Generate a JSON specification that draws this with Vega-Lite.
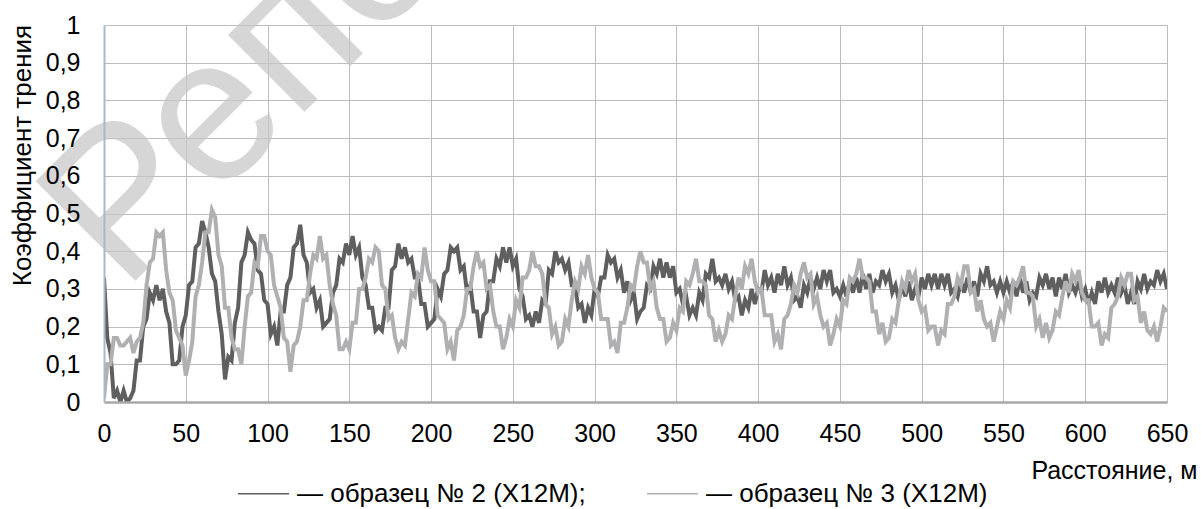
{
"$schema":"https://vega.github.io/schema/vega-lite/v6.json",
"width":1063,"height":377,
"autosize":{"type":"none"},
"padding":{"left":104,"top":25,"right":34,"bottom":107},
"background":"white",
"config":{"view":{"stroke":null},"font":"Liberation Sans"},
"resolve":{"axis":{"x":"independent","y":"independent"}},
"datasets":{
"w":[{"wx":12,"wy":0.29,"wt":"Репозиторий БНТУ"}],
"s":[
{"x":0,"d":0.33,"l":0.01},{"x":2,"d":0.17,"l":0.10},{"x":4,"d":0.13,"l":0.10},{"x":6,"d":0.01,"l":0.17},{"x":8,"d":0.03,"l":0.17},{"x":10,"d":0,"l":0.15},{"x":12,"d":0.03,"l":0.15},{"x":14,"d":0,"l":0.16},{"x":16,"d":0.01,"l":0.17},{"x":18,"d":0.03,"l":0.13},
{"x":20,"d":0.11,"l":0.16},{"x":22,"d":0.11,"l":0.17},{"x":24,"d":0.20,"l":0.21},{"x":26,"d":0.22,"l":0.31},{"x":28,"d":0.29,"l":0.37},{"x":30,"d":0.27,"l":0.38},{"x":32,"d":0.31,"l":0.45},{"x":34,"d":0.27,"l":0.44},{"x":36,"d":0.30,"l":0.45},{"x":38,"d":0.24,"l":0.35},
{"x":40,"d":0.21,"l":0.29},{"x":42,"d":0.10,"l":0.27},{"x":44,"d":0.10,"l":0.19},{"x":46,"d":0.11,"l":0.17},{"x":48,"d":0.20,"l":0.15},{"x":50,"d":0.23,"l":0.07},{"x":52,"d":0.31,"l":0.11},{"x":54,"d":0.32,"l":0.16},{"x":56,"d":0.41,"l":0.28},{"x":58,"d":0.42,"l":0.31},
{"x":60,"d":0.48,"l":0.37},{"x":62,"d":0.45,"l":0.45},{"x":64,"d":0.41,"l":0.45},{"x":66,"d":0.34,"l":0.51},{"x":68,"d":0.32,"l":0.49},{"x":70,"d":0.24,"l":0.39},{"x":72,"d":0.18,"l":0.36},{"x":74,"d":0.06,"l":0.25},{"x":76,"d":0.12,"l":0.25},{"x":78,"d":0.11,"l":0.17},
{"x":80,"d":0.21,"l":0.14},{"x":82,"d":0.25,"l":0.14},{"x":84,"d":0.37,"l":0.10},{"x":86,"d":0.39,"l":0.20},{"x":88,"d":0.45,"l":0.28},{"x":90,"d":0.43,"l":0.29},{"x":92,"d":0.42,"l":0.37},{"x":94,"d":0.35,"l":0.36},{"x":96,"d":0.34,"l":0.44},{"x":98,"d":0.27,"l":0.44},
{"x":100,"d":0.26,"l":0.40},{"x":102,"d":0.18,"l":0.39},{"x":104,"d":0.20,"l":0.31},{"x":106,"d":0.15,"l":0.28},{"x":108,"d":0.24,"l":0.25},{"x":110,"d":0.24,"l":0.17},{"x":112,"d":0.31,"l":0.16},{"x":114,"d":0.33,"l":0.08},{"x":116,"d":0.41,"l":0.15},{"x":118,"d":0.42,"l":0.16},
{"x":120,"d":0.47,"l":0.20},{"x":122,"d":0.39,"l":0.27},{"x":124,"d":0.37,"l":0.27},{"x":126,"d":0.29,"l":0.34},{"x":128,"d":0.30,"l":0.39},{"x":130,"d":0.25,"l":0.38},{"x":132,"d":0.27,"l":0.44},{"x":134,"d":0.20,"l":0.38},{"x":136,"d":0.21,"l":0.39},{"x":138,"d":0.22,"l":0.31},
{"x":140,"d":0.29,"l":0.26},{"x":142,"d":0.31,"l":0.23},{"x":144,"d":0.38,"l":0.14},{"x":146,"d":0.37,"l":0.14},{"x":148,"d":0.42,"l":0.16},{"x":150,"d":0.39,"l":0.14},{"x":152,"d":0.44,"l":0.21},{"x":154,"d":0.39,"l":0.21},{"x":156,"d":0.41,"l":0.30},{"x":158,"d":0.33,"l":0.30},
{"x":160,"d":0.31,"l":0.33},{"x":162,"d":0.25,"l":0.38},{"x":164,"d":0.25,"l":0.37},{"x":166,"d":0.19,"l":0.41},{"x":168,"d":0.20,"l":0.40},{"x":170,"d":0.19,"l":0.31},{"x":172,"d":0.25,"l":0.30},{"x":174,"d":0.25,"l":0.22},{"x":176,"d":0.35,"l":0.23},{"x":178,"d":0.36,"l":0.17},
{"x":180,"d":0.42,"l":0.14},{"x":182,"d":0.38,"l":0.16},{"x":184,"d":0.41,"l":0.15},{"x":186,"d":0.37,"l":0.22},{"x":188,"d":0.38,"l":0.29},{"x":190,"d":0.33,"l":0.28},{"x":192,"d":0.33,"l":0.34},{"x":194,"d":0.26,"l":0.33},{"x":196,"d":0.26,"l":0.41},{"x":198,"d":0.20,"l":0.35},
{"x":200,"d":0.21,"l":0.32},{"x":202,"d":0.22,"l":0.32},{"x":204,"d":0.30,"l":0.23},{"x":206,"d":0.28,"l":0.22},{"x":208,"d":0.34,"l":0.21},{"x":210,"d":0.35,"l":0.14},{"x":212,"d":0.41,"l":0.16},{"x":214,"d":0.40,"l":0.11},{"x":216,"d":0.41,"l":0.19},{"x":218,"d":0.35,"l":0.20},
{"x":220,"d":0.36,"l":0.23},{"x":222,"d":0.29,"l":0.30},{"x":224,"d":0.31,"l":0.30},{"x":226,"d":0.24,"l":0.36},{"x":228,"d":0.24,"l":0.40},{"x":230,"d":0.17,"l":0.36},{"x":232,"d":0.23,"l":0.37},{"x":234,"d":0.24,"l":0.30},{"x":236,"d":0.32,"l":0.31},{"x":238,"d":0.32,"l":0.24},
{"x":240,"d":0.38,"l":0.20},{"x":242,"d":0.36,"l":0.20},{"x":244,"d":0.41,"l":0.14},{"x":246,"d":0.37,"l":0.17},{"x":248,"d":0.41,"l":0.22},{"x":250,"d":0.36,"l":0.20},{"x":252,"d":0.38,"l":0.27},{"x":254,"d":0.30,"l":0.25},{"x":256,"d":0.28,"l":0.33},{"x":258,"d":0.22,"l":0.33},
{"x":260,"d":0.23,"l":0.35},{"x":262,"d":0.20,"l":0.40},{"x":264,"d":0.24,"l":0.36},{"x":266,"d":0.21,"l":0.36},{"x":268,"d":0.27,"l":0.34},{"x":270,"d":0.26,"l":0.26},{"x":272,"d":0.35,"l":0.25},{"x":274,"d":0.34,"l":0.18},{"x":276,"d":0.40,"l":0.20},{"x":278,"d":0.37,"l":0.15},
{"x":280,"d":0.38,"l":0.16},{"x":282,"d":0.35,"l":0.22},{"x":284,"d":0.37,"l":0.20},{"x":286,"d":0.31,"l":0.27},{"x":288,"d":0.31,"l":0.32},{"x":290,"d":0.25,"l":0.30},{"x":292,"d":0.26,"l":0.36},{"x":294,"d":0.21,"l":0.34},{"x":296,"d":0.25,"l":0.39},{"x":298,"d":0.23,"l":0.33},
{"x":300,"d":0.30,"l":0.30},{"x":302,"d":0.28,"l":0.29},{"x":304,"d":0.33,"l":0.22},{"x":306,"d":0.33,"l":0.22},{"x":308,"d":0.39,"l":0.22},{"x":310,"d":0.37,"l":0.15},{"x":312,"d":0.38,"l":0.16},{"x":314,"d":0.33,"l":0.13},{"x":316,"d":0.35,"l":0.21},{"x":318,"d":0.29,"l":0.21},
{"x":320,"d":0.32,"l":0.25},{"x":322,"d":0.27,"l":0.31},{"x":324,"d":0.29,"l":0.30},{"x":326,"d":0.22,"l":0.36},{"x":328,"d":0.24,"l":0.40},{"x":330,"d":0.25,"l":0.37},{"x":332,"d":0.31,"l":0.37},{"x":334,"d":0.30,"l":0.30},{"x":336,"d":0.36,"l":0.32},{"x":338,"d":0.34,"l":0.25},
{"x":340,"d":0.38,"l":0.22},{"x":342,"d":0.33,"l":0.22},{"x":344,"d":0.37,"l":0.16},{"x":346,"d":0.33,"l":0.17},{"x":348,"d":0.36,"l":0.21},{"x":350,"d":0.29,"l":0.19},{"x":352,"d":0.30,"l":0.25},{"x":354,"d":0.26,"l":0.24},{"x":356,"d":0.28,"l":0.32},{"x":358,"d":0.23,"l":0.31},
{"x":360,"d":0.25,"l":0.34},{"x":362,"d":0.23,"l":0.38},{"x":364,"d":0.29,"l":0.32},{"x":366,"d":0.27,"l":0.32},{"x":368,"d":0.34,"l":0.31},{"x":370,"d":0.33,"l":0.23},{"x":372,"d":0.38,"l":0.22},{"x":374,"d":0.32,"l":0.16},{"x":376,"d":0.33,"l":0.19},{"x":378,"d":0.31,"l":0.16},
{"x":380,"d":0.34,"l":0.18},{"x":382,"d":0.30,"l":0.23},{"x":384,"d":0.32,"l":0.22},{"x":386,"d":0.27,"l":0.28},{"x":388,"d":0.28,"l":0.33},{"x":390,"d":0.23,"l":0.30},{"x":392,"d":0.27,"l":0.36},{"x":394,"d":0.25,"l":0.34},{"x":396,"d":0.30,"l":0.38},{"x":398,"d":0.26,"l":0.32},
{"x":400,"d":0.30,"l":0.29},{"x":402,"d":0.29,"l":0.30},{"x":404,"d":0.35,"l":0.23},{"x":406,"d":0.31,"l":0.23},{"x":408,"d":0.33,"l":0.23},{"x":410,"d":0.29,"l":0.16},{"x":412,"d":0.34,"l":0.18},{"x":414,"d":0.31,"l":0.14},{"x":416,"d":0.36,"l":0.22},{"x":418,"d":0.31,"l":0.23},
{"x":420,"d":0.33,"l":0.26},{"x":422,"d":0.27,"l":0.31},{"x":424,"d":0.28,"l":0.29},{"x":426,"d":0.25,"l":0.34},{"x":428,"d":0.31,"l":0.37},{"x":430,"d":0.29,"l":0.33},{"x":432,"d":0.33,"l":0.34},{"x":434,"d":0.30,"l":0.26},{"x":436,"d":0.33,"l":0.28},{"x":438,"d":0.30,"l":0.23},
{"x":440,"d":0.35,"l":0.20},{"x":442,"d":0.32,"l":0.21},{"x":444,"d":0.35,"l":0.15},{"x":446,"d":0.29,"l":0.18},{"x":448,"d":0.30,"l":0.22},{"x":450,"d":0.28,"l":0.20},{"x":452,"d":0.31,"l":0.27},{"x":454,"d":0.28,"l":0.26},{"x":456,"d":0.32,"l":0.33},{"x":458,"d":0.29,"l":0.32},
{"x":460,"d":0.33,"l":0.34},{"x":462,"d":0.29,"l":0.38},{"x":464,"d":0.34,"l":0.33},{"x":466,"d":0.30,"l":0.33},{"x":468,"d":0.34,"l":0.32},{"x":470,"d":0.29,"l":0.24},{"x":472,"d":0.32,"l":0.24},{"x":474,"d":0.31,"l":0.18},{"x":476,"d":0.35,"l":0.21},{"x":478,"d":0.32,"l":0.16},
{"x":480,"d":0.34,"l":0.17},{"x":482,"d":0.29,"l":0.22},{"x":484,"d":0.31,"l":0.21},{"x":486,"d":0.27,"l":0.27},{"x":488,"d":0.31,"l":0.32},{"x":490,"d":0.28,"l":0.30},{"x":492,"d":0.32,"l":0.35},{"x":494,"d":0.27,"l":0.32},{"x":496,"d":0.30,"l":0.34},{"x":498,"d":0.28,"l":0.27},
{"x":500,"d":0.33,"l":0.24},{"x":502,"d":0.30,"l":0.25},{"x":504,"d":0.34,"l":0.19},{"x":506,"d":0.31,"l":0.20},{"x":508,"d":0.34,"l":0.20},{"x":510,"d":0.30,"l":0.15},{"x":512,"d":0.34,"l":0.19},{"x":514,"d":0.31,"l":0.18},{"x":516,"d":0.34,"l":0.26},{"x":518,"d":0.29,"l":0.26},
{"x":520,"d":0.30,"l":0.28},{"x":522,"d":0.28,"l":0.33},{"x":524,"d":0.32,"l":0.31},{"x":526,"d":0.29,"l":0.36},{"x":528,"d":0.33,"l":0.36},{"x":530,"d":0.29,"l":0.29},{"x":532,"d":0.32,"l":0.30},{"x":534,"d":0.28,"l":0.24},{"x":536,"d":0.34,"l":0.27},{"x":538,"d":0.32,"l":0.22},
{"x":540,"d":0.36,"l":0.20},{"x":542,"d":0.31,"l":0.21},{"x":544,"d":0.32,"l":0.16},{"x":546,"d":0.29,"l":0.20},{"x":548,"d":0.32,"l":0.24},{"x":550,"d":0.29,"l":0.22},{"x":552,"d":0.32,"l":0.27},{"x":554,"d":0.29,"l":0.25},{"x":556,"d":0.32,"l":0.32},{"x":558,"d":0.28,"l":0.31},
{"x":560,"d":0.33,"l":0.33},{"x":562,"d":0.29,"l":0.36},{"x":564,"d":0.32,"l":0.29},{"x":566,"d":0.27,"l":0.29},{"x":568,"d":0.29,"l":0.28},{"x":570,"d":0.28,"l":0.20},{"x":572,"d":0.33,"l":0.22},{"x":574,"d":0.31,"l":0.17},{"x":576,"d":0.34,"l":0.21},{"x":578,"d":0.30,"l":0.17},
{"x":580,"d":0.33,"l":0.19},{"x":582,"d":0.28,"l":0.24},{"x":584,"d":0.33,"l":0.23},{"x":586,"d":0.30,"l":0.28},{"x":588,"d":0.34,"l":0.32},{"x":590,"d":0.29,"l":0.29},{"x":592,"d":0.31,"l":0.34},{"x":594,"d":0.29,"l":0.32},{"x":596,"d":0.32,"l":0.35},{"x":598,"d":0.28,"l":0.29},
{"x":600,"d":0.30,"l":0.27},{"x":602,"d":0.26,"l":0.27},{"x":604,"d":0.29,"l":0.20},{"x":606,"d":0.26,"l":0.20},{"x":608,"d":0.32,"l":0.21},{"x":610,"d":0.29,"l":0.15},{"x":612,"d":0.33,"l":0.18},{"x":614,"d":0.29,"l":0.17},{"x":616,"d":0.31,"l":0.25},{"x":618,"d":0.29,"l":0.26},
{"x":620,"d":0.33,"l":0.28},{"x":622,"d":0.29,"l":0.33},{"x":624,"d":0.31,"l":0.31},{"x":626,"d":0.26,"l":0.34},{"x":628,"d":0.29,"l":0.34},{"x":630,"d":0.26,"l":0.27},{"x":632,"d":0.32,"l":0.28},{"x":634,"d":0.30,"l":0.21},{"x":636,"d":0.34,"l":0.24},{"x":638,"d":0.30,"l":0.19},
{"x":640,"d":0.32,"l":0.18},{"x":642,"d":0.31,"l":0.20},{"x":644,"d":0.35,"l":0.16},{"x":646,"d":0.32,"l":0.20},{"x":648,"d":0.34,"l":0.25},{"x":650,"d":0.30,"l":0.24}
]},
"layer":[
{"data":{"name":"w"},
 "mark":{"type":"text","font":"Liberation Sans","fontSize":205,"angle":-45,"align":"left","baseline":"alphabetic","color":"#c6c6c6","opacity":0.7,"clip":false},
 "encoding":{
  "x":{"field":"wx","type":"quantitative","scale":{"domain":[0,650],"nice":false,"zero":false},
   "axis":{"orient":"bottom","values":[0,50,100,150,200,250,300,350,400,450,500,550,600,650],"grid":true,"gridColor":"#bdbdbd","gridWidth":1,"domain":false,"ticks":false,"labels":false,"title":null,"zindex":0}},
  "y":{"field":"wy","type":"quantitative","scale":{"domain":[0,1],"nice":false},
   "axis":{"orient":"left","values":[0,0.1,0.2,0.3,0.4,0.5,0.6,0.7,0.8,0.9,1],"grid":true,"gridColor":"#bdbdbd","gridWidth":1,"domain":false,"ticks":false,"labels":false,"title":null,"zindex":0}},
  "text":{"field":"wt","type":"nominal"}}},
{"data":{"name":"s"},
 "transform":[{"fold":["d","l"],"as":["s","v"]}],
 "mark":{"type":"line","strokeWidth":4,"clip":true,"interpolate":"linear","strokeJoin":"miter"},
 "encoding":{
  "x":{"field":"x","type":"quantitative","scale":{"domain":[0,650],"nice":false,"zero":false},
   "axis":{"orient":"bottom","zindex":1,"values":[0,50,100,150,200,250,300,350,400,450,500,550,600,650],"grid":false,"domainColor":"#a8a8a8","domainWidth":2.5,"ticks":false,"labelFontSize":25,"labelColor":"#000000","labelPadding":19,"labelFont":"Liberation Sans","labelFlush":false,"labelOverlap":false,
   "title":"Расстояние, м","titleFont":"Liberation Sans","titleFontSize":25,"titleFontWeight":"normal","titleColor":"#000000","titleAnchor":"end","titleAlign":"right","titleX":1093,"titleY":76,"titleBaseline":"alphabetic"}},
  "y":{"field":"v","type":"quantitative","scale":{"domain":[0,1],"nice":false},
   "axis":{"orient":"left","zindex":1,"values":[0,0.1,0.2,0.3,0.4,0.5,0.6,0.7,0.8,0.9,1],"labelExpr":"replace(format(datum.value,'.1~f'),'.',',')","grid":false,"domainColor":"#a9b8cb","domainWidth":2,"ticks":false,"labelFontSize":25,"labelColor":"#000000","labelPadding":24,"labelFont":"Liberation Sans","labelOverlap":false,
   "title":"Коэффициент трения","titleFont":"Liberation Sans","titleFontSize":26,"titleFontWeight":"normal","titleColor":"#000000","titleAngle":-90,"titleAlign":"center","titleBaseline":"middle","titleX":-82,"titleY":130}},
  "color":{"field":"s","type":"nominal","scale":{"domain":["d","l"],"range":["#5f5f60","#b0b0b2"]},
   "legend":{"orient":"none","legendX":133,"legendY":442,"direction":"horizontal","title":null,"padding":0,"symbolType":"stroke","symbolSize":2601,"symbolStrokeWidth":1.5,"labelFontSize":26,"labelFont":"Liberation Sans","labelColor":"#000000","labelOffset":7,"labelLimit":0,"columnPadding":58,
   "labelExpr":"datum.label=='d'?'— образец № 2 (Х12М);':'— образец № 3 (Х12М)'"}},
  "order":{"field":"s","type":"nominal"}}}
]
}
